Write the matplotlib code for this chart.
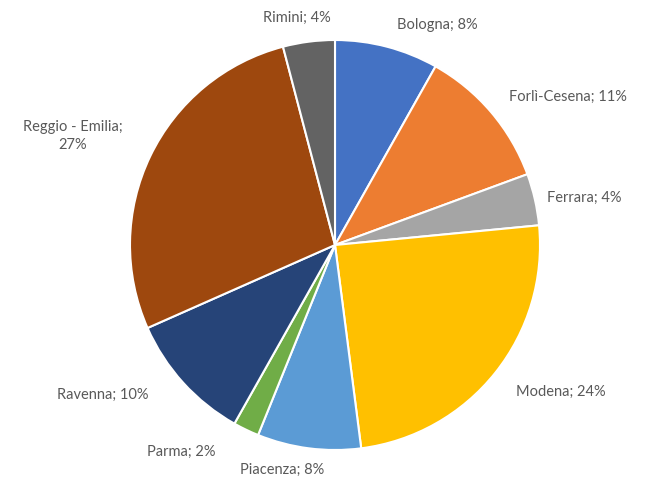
import matplotlib.pyplot as plt

provinces = ["Bologna", "Forlì-Cesena", "Ferrara", "Modena", "Piacenza",
             "Parma", "Ravenna", "Reggio - Emilia", "Rimini"]
shares = [8, 11, 4, 24, 8, 2, 10, 27, 4]
colors = ["#4472C4", "#ED7D31", "#A5A5A5", "#FFC000", "#5B9BD5",
          "#70AD47", "#264478", "#9E480E", "#636363"]

# label centres in pixels (figure is 645x479), converted to pie units below
label_px = [(437, 25), (568, 97), (584, 198), (561, 392), (282, 470),
            (181, 452), (103, 395), (73, 136), (297, 18)]

W, H = 645, 479
CX, CY, R = 335, 245, 205

fig = plt.figure(figsize=(W / 100, H / 100), dpi=100)
ax = fig.add_axes([(CX - R) / W, (H - CY - R) / H, 2 * R / W, 2 * R / H])
ax.pie(shares, colors=colors, startangle=90, counterclock=False, radius=1,
       wedgeprops=dict(edgecolor="white", linewidth=1.5))
ax.set_xlim(-1, 1)
ax.set_ylim(-1, 1)
ax.set_aspect("auto")
ax.axis("off")

for name, val, (px, py) in zip(provinces, shares, label_px):
    sep = ";\n" if name.startswith("Reggio") else "; "
    ax.text((px - CX) / R, (CY - py) / R, f"{name}{sep}{val}%",
            ha="center", va="center", fontsize=10.5, color="#595959",
            family=["Lato", "DejaVu Sans"], linespacing=1.4, clip_on=False)

fig.savefig("out.png", dpi=100)
